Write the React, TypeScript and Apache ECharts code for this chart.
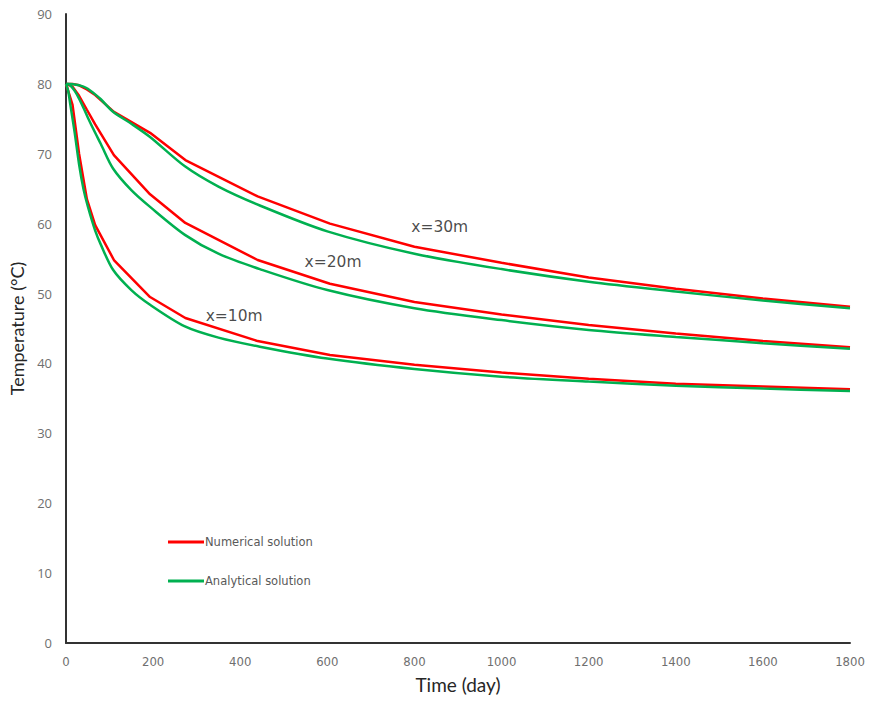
import React, { useEffect, useRef } from "react";
import * as echarts from "echarts";

// Time grid (days) of the numerical scheme output
const numDays = [0, 15, 30, 48, 67, 110, 193, 274, 440, 606, 800, 1000, 1200, 1400, 1600, 1800];
const num10 = [80, 77, 70, 63.5, 59.8, 54.8, 49.5, 46.5, 43.2, 41.2, 39.8, 38.7, 37.8, 37.1, 36.7, 36.3];
const num20 = [80, 79.6, 78.3, 76.3, 74.2, 69.8, 64.2, 60.1, 54.8, 51.4, 48.8, 47.0, 45.5, 44.3, 43.2, 42.3];
const num30 = [80, 80, 79.8, 79.2, 78.4, 76.0, 73.0, 69.1, 63.9, 60.0, 56.7, 54.4, 52.3, 50.7, 49.3, 48.1];

// Analytical solution sampled densely
const anaDays = [0, 5, 10, 20, 30, 40, 50, 67, 80, 108, 150, 193, 273, 350, 445, 600, 800, 1000, 1200, 1400, 1600, 1800];
const ana10 = [80, 79, 77, 73, 68.5, 65, 62.5, 59, 57, 53.4, 50.5, 48.4, 45.3, 43.7, 42.4, 40.7, 39.2, 38.1, 37.4, 36.8, 36.4, 36.05];
const ana20 = [80, 80, 79.8, 79, 77.9, 76.6, 75.2, 73, 71.4, 67.9, 64.8, 62.4, 58.4, 55.7, 53.5, 50.5, 47.9, 46.2, 44.8, 43.8, 42.9, 42.1];
const ana30 = [80, 80, 80, 79.9, 79.8, 79.6, 79.3, 78.5, 77.8, 76.0, 74.3, 72.4, 68.2, 65.3, 62.6, 58.9, 55.7, 53.5, 51.7, 50.3, 49.0, 47.9];

// Curve annotations (day, temperature)
const notes: { text: string; at: [number, number] }[] = [
  { text: "x=30m", at: [858, 59.5] },
  { text: "x=20m", at: [613, 54.5] },
  { text: "x=10m", at: [386, 46.8] },
];

const xTicks = { min: 0, max: 1800, interval: 200 };
const yTicks = { min: 0, max: 90, interval: 10 };

const NUM = "Numerical solution";
const ANA = "Analytical solution";

const pairs = (xs: number[], ys: number[]) => xs.map((x, i) => [x, ys[i]]);

export default function App() {
  const ref = useRef<HTMLDivElement>(null);

  useEffect(() => {
    if (!ref.current) return;
    const chart = echarts.init(ref.current, undefined, { renderer: "svg" });

    const lineBase = (name: string, color: string, data: number[][], smooth: number | false) => ({
      type: "line",
      name,
      data,
      smooth,
      showSymbol: false,
      symbol: "none",
      lineStyle: { color, width: 2.5 },
      itemStyle: { color },
      emphasis: { disabled: true },
    });

    chart.setOption({
      animation: false,
      backgroundColor: "#ffffff",
      grid: { left: 66, right: 20, top: 14, bottom: 58 },
      legend: {
        data: [NUM, ANA],
        orient: "vertical",
        left: 163,
        top: 531,
        itemGap: 27,
        itemWidth: 36,
        itemHeight: 3,
        icon: "rect",
        textStyle: { fontSize: 11.5, color: "#595959", fontFamily: "'DejaVu Sans', sans-serif", padding: [0, 0, 0, -4] },
      },
      xAxis: {
        type: "value",
        ...xTicks,
        name: "Time (day)",
        nameLocation: "middle",
        nameGap: 32,
        nameTextStyle: { fontSize: 19, color: "#262626", fontFamily: "Lato, sans-serif" },
        axisLine: { lineStyle: { color: "#333333", width: 2 } },
        axisTick: { show: false },
        splitLine: { show: false },
        axisLabel: {
          margin: 12,
          fontSize: 13,
          color: "#6f6f6f",
          formatter: (v: number) => String(v),
          fontFamily: "'Liberation Sans Narrow', 'DejaVu Sans Condensed', sans-serif",
        },
      },
      yAxis: {
        type: "value",
        ...yTicks,
        name: "Temperature (°C)",
        nameLocation: "middle",
        nameGap: 38,
        nameRotate: 90,
        nameTextStyle: { fontSize: 18, color: "#262626", fontFamily: "Lato, sans-serif" },
        axisLine: { show: true, lineStyle: { color: "#333333", width: 2 } },
        axisTick: { show: false },
        splitLine: { show: false },
        axisLabel: { margin: 14, fontSize: 13, color: "#6f6f6f", fontFamily: "'Open Sans', sans-serif" },
      },
      series: [
        lineBase(NUM, "#ff0000", pairs(numDays, num10), false),
        lineBase(NUM, "#ff0000", pairs(numDays, num20), false),
        lineBase(NUM, "#ff0000", pairs(numDays, num30), false),
        lineBase(ANA, "#00b050", pairs(anaDays, ana10), 0.3),
        lineBase(ANA, "#00b050", pairs(anaDays, ana20), 0.3),
        lineBase(ANA, "#00b050", pairs(anaDays, ana30), 0.3),
        {
          type: "scatter",
          name: "notes",
          symbolSize: 0,
          silent: true,
          data: notes.map((n) => ({ value: n.at, name: n.text })),
          label: {
            show: true,
            position: "inside",
            formatter: (p: any) => p.name,
            fontSize: 15.5,
            color: "#1a1a1a",
            fontFamily: "'DejaVu Sans', sans-serif",
          },
        },
      ],
    });

    return () => chart.dispose();
  }, []);

  return (
    <div
      ref={ref}
      style={{ position: "fixed", left: 0, top: 0, width: 870, height: 701, overflow: "hidden" }}
    />
  );
}
